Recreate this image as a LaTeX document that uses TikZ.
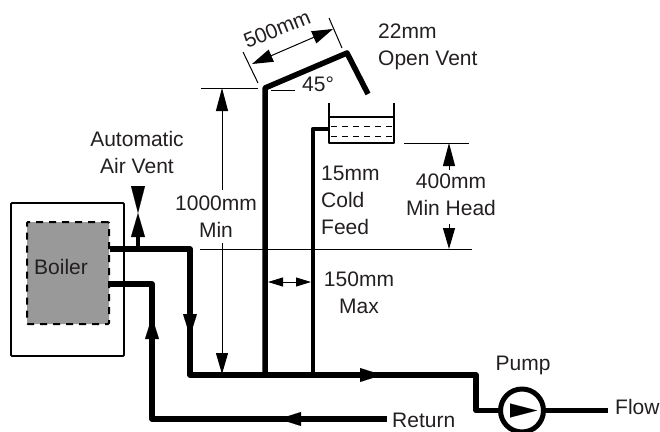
\documentclass[tikz,border=0pt]{standalone}
\usepackage{fontspec}
\setmainfont{Liberation Sans}
\usetikzlibrary{arrows.meta}
\definecolor{ink}{HTML}{231F20}
\begin{document}
\begin{tikzpicture}[x=1pt, y=-1pt, line join=round,
	lbl/.style={text=ink, inner sep=0pt, font=\fontsize{21}{27}\selectfont},
	pipe/.style={line width=5.5pt, black},
	thinpipe/.style={line width=4.5pt, black},
	dim/.style={line width=1pt, black},
	tank/.style={line width=1.8pt, black},
	head/.style={line width=0.1pt, -{Triangle[length=22pt, width=14pt]}},
	smallhead/.style={{Triangle[length=15pt, width=9pt]}-{Triangle[length=15pt, width=9pt]}}]
	\useasboundingbox (0,0) rectangle (660,431);
	% boiler
	\node[draw, line width=1.8pt, rounded corners=1pt, minimum width=113pt, minimum height=153pt, inner sep=0pt] (case) at (67.5,279.5) {};
	\node[draw, fill=black!40, line width=2pt, dash pattern=on 7pt off 6pt, rounded corners=1pt, minimum width=82pt, minimum height=102pt, inner sep=0pt] (burner) at (68,273) {};
	\node[lbl, anchor=west] (boiler) at (34,267) {Boiler};
	% pump
	\node[circle, draw, line width=5pt, minimum size=43pt, inner sep=0pt] (pump) at (522,410.5) {};
	% points along the pipes
	\coordinate (flowout) at (110,249);
	\coordinate (flowbend) at (190,249);
	\coordinate (flowlow) at (190,375);
	\coordinate (riser) at (265,375);
	\coordinate (feedfoot) at (313,375);
	\coordinate (mainend) at (476,375);
	\coordinate (pumpin) at (476,410.5);
	\coordinate (ventbase) at (265,88);
	\coordinate (ventpeak) at (347,53);
	\coordinate (ventend) at (368,94);
	\coordinate (feedtop) at (313,129);
	\coordinate (feedin) at (329,129);
	\coordinate (backin) at (110,284);
	\coordinate (backbend) at (152,284);
	\coordinate (backlow) at (152,419);
	\coordinate (backend) at (387,419);
	\coordinate (aavfoot) at (138,249);
	\coordinate (aavlow) at (138,237);
	\coordinate (aavtop) at (138,213);
	\coordinate (aavup) at (138,186);
	\coordinate (flowend) at (608,410.5);
	% tank
	\coordinate (tanktl) at (329,103);
	\coordinate (tankbl) at (329,143);
	\coordinate (tankbr) at (394,143);
	\coordinate (tanktr) at (394,103);
	\coordinate (waterl) at (329,117);
	\coordinate (waterr) at (394,117);
	\coordinate (dasha) at (331,126);
	\coordinate (dashb) at (392,126);
	\coordinate (dashc) at (331,136);
	\coordinate (dashd) at (392,136);
	\draw[tank] (tanktl) -- (tankbl) -- (tankbr) -- (tanktr);
	\draw[tank, line width=1.2pt] (waterl) -- (waterr);
	\draw[line width=1pt, dash pattern=on 6pt off 5pt] (dasha) -- (dashb);
	\draw[line width=1pt, dash pattern=on 6pt off 5pt] (dashc) -- (dashd);
	% pipes
	\draw[pipe] (flowout) -- (flowbend) -- (flowlow) -- (mainend) -- (pumpin) -- (pump.west);
	\draw[pipe] (backin) -- (backbend) -- (backlow) -- (backend);
	\draw[pipe] (riser) -- (ventbase) -- (ventpeak) -- (ventend);
	\draw[thinpipe] (feedfoot) -- (feedtop) -- (feedin);
	\draw[thinpipe] (aavfoot) -- (aavlow);
	\draw[pipe] (pump.east) -- (flowend);
	\coordinate (pumptail) at (510,410.5);
	\coordinate (pumptip) at (537,410.5);
	\draw[line width=0.1pt, -{Triangle[length=27pt, width=14pt]}] (pumptail) -- (pumptip);
	% flow direction heads
	\coordinate (downa) at (190,313);
	\coordinate (downb) at (190,336);
	\coordinate (upa) at (152,340);
	\coordinate (upb) at (152,317);
	\coordinate (righta) at (358,375);
	\coordinate (rightb) at (382,375);
	\coordinate (lefta) at (300,419);
	\coordinate (leftb) at (279,419);
	\draw[head] (downa) -- (downb);
	\draw[head] (upa) -- (upb);
	\draw[head] (righta) -- (rightb);
	\draw[head] (lefta) -- (leftb);
	% air vent
	\draw[line width=0.1pt, -{Triangle[length=24pt, width=14pt]}] (aavlow) -- (aavtop);
	\draw[line width=0.1pt, -{Triangle[length=27pt, width=14pt]}] (aavup) -- (aavtop);
	% dimensions
	\coordinate (levela) at (201,88);
	\coordinate (levelb) at (258,88);
	\coordinate (kneea) at (271,90);
	\coordinate (kneeb) at (295,90);
	\coordinate (datuma) at (200,249);
	\coordinate (datumb) at (472,249);
	\coordinate (heada) at (404,143);
	\coordinate (headb) at (469,143);
	\draw[dim] (levela) -- (levelb);
	\draw[dim] (kneea) -- (kneeb);
	\draw[dim] (datuma) -- (datumb);
	\draw[dim] (heada) -- (headb);
	\coordinate (lena) at (243,52);
	\coordinate (lenb) at (258,83);
	\coordinate (lenc) at (329,18);
	\coordinate (lend) at (342,48);
	\draw[dim] (lena) -- (lenb);
	\draw[dim] (lenc) -- (lend);
	\coordinate (lene) at (252,64);
	\coordinate (lenf) at (333,29);
	\draw[dim, {Triangle[length=21pt, width=13pt]}-{Triangle[length=21pt, width=13pt]}] (lene) -- (lenf);
	\coordinate (mina) at (222,88);
	\coordinate (minb) at (222,190);
	\coordinate (minc) at (222,243);
	\coordinate (mind) at (222,374);
	\draw[dim, {Triangle[length=23pt, width=12pt]}-] (mina) -- (minb);
	\draw[dim, -{Triangle[length=21pt, width=12pt]}] (minc) -- (mind);
	\coordinate (hta) at (449,143);
	\coordinate (htb) at (449,170);
	\coordinate (htc) at (449,224);
	\coordinate (htd) at (449,249);
	\draw[dim, {Triangle[length=23pt, width=12pt]}-] (hta) -- (htb);
	\draw[dim, -{Triangle[length=21pt, width=12pt]}] (htc) -- (htd);
	\coordinate (gapa) at (268,282);
	\coordinate (gapb) at (311,282);
	\draw[dim, smallhead] (gapa) -- (gapb);
	% labels
	\node[lbl, rotate=22] (len) at (277,29) {500mm};
	\node[lbl, anchor=west] (angle) at (302,84) {45°};
	\node[lbl, anchor=west, align=left] (vent) at (378,47) {22mm\\Open Vent};
	\node[lbl, align=center] (aav) at (137,152.5) {Automatic\\Air Vent};
	\node[lbl, align=center] (rise) at (216,217) {1000mm\\Min};
	\node[lbl, anchor=west, align=left] (feed) at (321,200) {15mm\\Cold\\Feed};
	\node[lbl, align=center] (minhead) at (451,195) {400mm\\Min Head};
	\node[lbl, align=center] (gap) at (359,292.5) {150mm\\Max};
	\node[lbl] (pumplbl) at (523,365) {Pump};
	\node[lbl, anchor=west] (ret) at (392,420) {Return};
	\node[lbl, anchor=west] (flow) at (615,407) {Flow};
\end{tikzpicture}
\end{document}
